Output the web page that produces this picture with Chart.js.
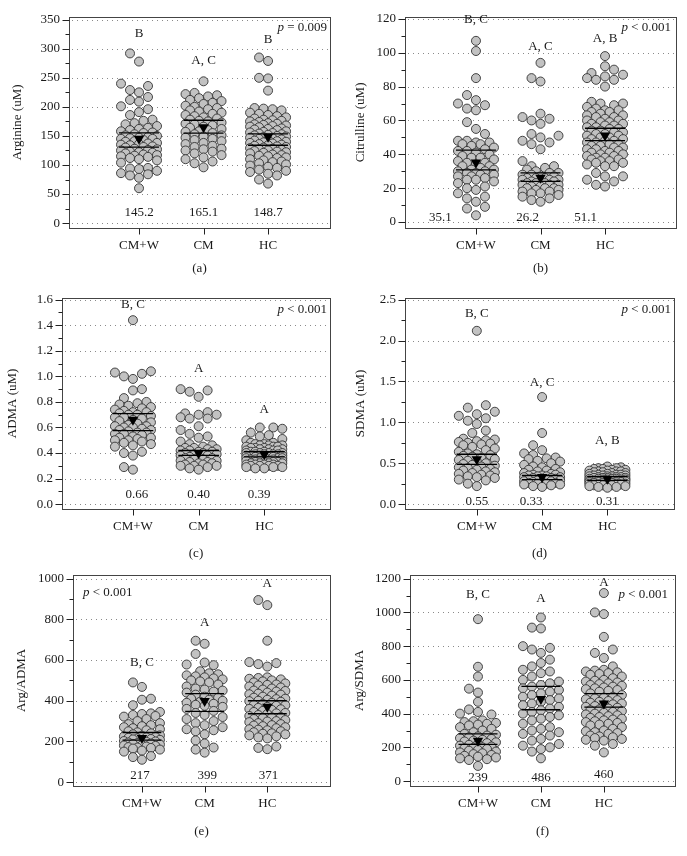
<!DOCTYPE html>
<html>
<head>
<meta charset="utf-8">
<script src="https://cdn.jsdelivr.net/npm/chart.js@4.4.3/dist/chart.umd.min.js"></script>
<style>
  html, body { margin: 0; background: #fff; }
  #wrap { position: relative; width: 687px; height: 856px; overflow: hidden; }
  #wrap canvas { position: absolute; display: block; }
</style>
</head>
<body>
<div id="wrap">
  <canvas id="c-a" width="343" height="285" style="left:0;top:0"></canvas>
  <canvas id="c-b" width="344" height="285" style="left:343px;top:0"></canvas>
  <canvas id="c-c" width="343" height="285" style="left:0;top:281px"></canvas>
  <canvas id="c-d" width="344" height="285" style="left:343px;top:281px"></canvas>
  <canvas id="c-e" width="343" height="285" style="left:0;top:558px"></canvas>
  <canvas id="c-f" width="344" height="285" style="left:343px;top:558px"></canvas>
</div>
<script>
const groups = ["CM+W", "CM", "HC"];

// (a) arginine
const argCMW = [292, 278, 240, 236, 229, 225, 217, 212, 209, 201, 196, 191, 186, 178, 176, 172, 170, 167, 164, 162, 160, 158, 156, 155, 153, 151, 150, 148, 147, 146, 145, 145, 143, 141, 140, 138, 137, 136, 135, 134, 132, 131, 130, 128, 127, 126, 125, 123, 122, 121, 120, 118, 117, 116, 115, 114, 112, 110, 108, 104, 95, 94, 93, 90, 86, 84, 82, 78, 60];
const argCM = [244, 224, 222, 220, 218, 215, 212, 210, 207, 205, 202, 200, 198, 196, 194, 192, 190, 188, 186, 184, 182, 180, 178, 176, 175, 173, 171, 170, 168, 166, 164, 162, 160, 158, 157, 155, 153, 151, 149, 147, 145, 143, 141, 138, 136, 133, 131, 128, 127, 125, 123, 120, 117, 113, 110, 106, 103, 96];
const argHC = [285, 279, 250, 249, 228, 198, 197, 196, 194, 190, 188, 186, 184, 182, 180, 178, 177, 176, 175, 174, 172, 171, 170, 169, 168, 167, 166, 165, 163, 162, 161, 160, 158, 157, 156, 155, 154, 153, 152, 151, 150, 149, 148, 147, 146, 145, 144, 143, 142, 141, 140, 139, 138, 137, 136, 135, 134, 133, 132, 131, 130, 129, 128, 127, 126, 125, 124, 123, 122, 121, 120, 118, 117, 116, 115, 113, 112, 110, 108, 106, 105, 103, 101, 99, 97, 95, 92, 90, 88, 85, 82, 75, 68];
const argMeans = [145.2, 165.1, 148.7];
const argCI = [[130.8, 155.4], [155, 177], [134, 153.7]];
const argLetters = ["B", "A, C", "B"];

// (b) citrulline
const citCMW = [107, 101, 85, 75, 72, 70, 69, 67, 66, 59, 55, 52, 48, 48, 47, 47, 46, 46, 45, 44, 43, 42, 42, 41, 40, 39, 38, 38, 37, 36, 35, 35, 34, 33, 33, 32, 31, 31, 30, 30, 29, 29, 28, 28, 27, 27, 26, 25, 25, 24, 23, 21, 20, 19, 17, 15, 14, 12, 9, 8, 4];
const citCM = [94, 85, 83, 64, 62, 61, 60, 58, 52, 51, 50, 48, 47, 46, 43, 36, 33, 33, 32, 31, 30, 29, 29, 28, 28, 27, 27, 26, 26, 26, 25, 25, 25, 24, 24, 24, 23, 23, 23, 22, 22, 22, 21, 21, 20, 20, 20, 19, 19, 18, 18, 17, 17, 16, 15, 14, 13, 12];
const citHC = [98, 92, 90, 88, 87, 86, 85, 84, 84, 80, 71, 70, 70, 69, 68, 67, 66, 66, 65, 65, 64, 63, 63, 62, 62, 61, 60, 60, 59, 59, 58, 58, 57, 57, 56, 56, 55, 55, 54, 54, 53, 53, 52, 52, 51, 51, 50, 50, 49, 49, 48, 48, 47, 47, 46, 46, 45, 45, 44, 44, 43, 43, 42, 42, 41, 41, 40, 40, 39, 39, 38, 38, 37, 37, 36, 36, 35, 35, 34, 33, 33, 29, 27, 27, 25, 24, 22, 21];
const citMeans = [35.1, 26.2, 51.1];
const citCI = [[30.8, 42.5], [24, 29], [48.1, 55.4]];
const citLetters = ["B, C", "A, C", "A, B"];

// (c) ADMA
const admaCMW = [1.44, 1.04, 1.03, 1.02, 1.0, 0.98, 0.9, 0.89, 0.83, 0.8, 0.79, 0.78, 0.77, 0.76, 0.75, 0.74, 0.73, 0.72, 0.72, 0.71, 0.7, 0.7, 0.69, 0.68, 0.68, 0.67, 0.66, 0.65, 0.64, 0.63, 0.62, 0.61, 0.61, 0.6, 0.6, 0.59, 0.58, 0.58, 0.57, 0.56, 0.56, 0.55, 0.55, 0.54, 0.53, 0.52, 0.52, 0.51, 0.5, 0.5, 0.49, 0.48, 0.47, 0.46, 0.45, 0.41, 0.4, 0.38, 0.29, 0.27];
const admaCM = [0.9, 0.89, 0.88, 0.84, 0.72, 0.71, 0.7, 0.7, 0.68, 0.67, 0.67, 0.61, 0.58, 0.55, 0.53, 0.52, 0.49, 0.47, 0.46, 0.45, 0.44, 0.44, 0.43, 0.43, 0.42, 0.42, 0.41, 0.41, 0.4, 0.4, 0.39, 0.39, 0.38, 0.38, 0.37, 0.37, 0.36, 0.36, 0.35, 0.35, 0.34, 0.34, 0.33, 0.33, 0.32, 0.32, 0.31, 0.31, 0.3, 0.3, 0.3, 0.29, 0.28, 0.27];
const admaHC = [0.6, 0.6, 0.59, 0.56, 0.54, 0.53, 0.51, 0.5, 0.48, 0.48, 0.47, 0.47, 0.46, 0.46, 0.46, 0.45, 0.45, 0.45, 0.44, 0.44, 0.44, 0.43, 0.43, 0.43, 0.42, 0.42, 0.42, 0.41, 0.41, 0.41, 0.4, 0.4, 0.4, 0.4, 0.39, 0.39, 0.39, 0.39, 0.38, 0.38, 0.38, 0.38, 0.37, 0.37, 0.37, 0.37, 0.36, 0.36, 0.36, 0.36, 0.35, 0.35, 0.35, 0.35, 0.34, 0.34, 0.34, 0.34, 0.33, 0.33, 0.33, 0.33, 0.32, 0.32, 0.32, 0.32, 0.31, 0.31, 0.31, 0.31, 0.3, 0.3, 0.3, 0.3, 0.29, 0.29, 0.29, 0.28, 0.28];
const admaMeans = [0.66, 0.40, 0.39];
const admaCI = [[0.575, 0.708], [0.382, 0.42], [0.37, 0.41]];
const admaLetters = ["B, C", "A", "A"];

// (d) SDMA
const sdmaCMW = [2.12, 1.21, 1.18, 1.13, 1.1, 1.08, 1.05, 1.02, 0.98, 0.9, 0.87, 0.8, 0.79, 0.78, 0.77, 0.76, 0.75, 0.74, 0.73, 0.72, 0.7, 0.68, 0.66, 0.64, 0.62, 0.61, 0.6, 0.59, 0.58, 0.56, 0.55, 0.54, 0.53, 0.52, 0.5, 0.49, 0.48, 0.47, 0.46, 0.45, 0.44, 0.43, 0.42, 0.41, 0.4, 0.39, 0.38, 0.37, 0.36, 0.35, 0.34, 0.33, 0.32, 0.3, 0.29, 0.25, 0.22];
const sdmaCM = [1.31, 0.87, 0.72, 0.66, 0.62, 0.6, 0.57, 0.56, 0.55, 0.53, 0.52, 0.5, 0.48, 0.46, 0.45, 0.43, 0.42, 0.41, 0.4, 0.39, 0.38, 0.37, 0.36, 0.36, 0.35, 0.35, 0.34, 0.34, 0.33, 0.33, 0.32, 0.32, 0.31, 0.31, 0.3, 0.3, 0.29, 0.29, 0.28, 0.28, 0.27, 0.27, 0.26, 0.26, 0.25, 0.25, 0.24, 0.24, 0.23, 0.22, 0.21];
const sdmaHC = [0.46, 0.45, 0.44, 0.44, 0.43, 0.43, 0.42, 0.42, 0.41, 0.41, 0.4, 0.4, 0.4, 0.39, 0.39, 0.38, 0.38, 0.37, 0.37, 0.36, 0.36, 0.36, 0.35, 0.35, 0.35, 0.34, 0.34, 0.34, 0.33, 0.33, 0.33, 0.32, 0.32, 0.32, 0.32, 0.31, 0.31, 0.31, 0.31, 0.3, 0.3, 0.3, 0.3, 0.29, 0.29, 0.29, 0.29, 0.28, 0.28, 0.28, 0.28, 0.27, 0.27, 0.27, 0.27, 0.26, 0.26, 0.26, 0.26, 0.25, 0.25, 0.25, 0.24, 0.24, 0.24, 0.23, 0.23, 0.23, 0.22, 0.22, 0.21, 0.21, 0.2];
const sdmaMeans = [0.55, 0.33, 0.31];
const sdmaCI = [[0.485, 0.61], [0.30, 0.35], [0.29, 0.337]];
const sdmaLetters = ["B, C", "A, C", "A, B"];

// (e) Arg/ADMA
const aaCMW = [490, 468, 410, 405, 378, 345, 338, 335, 330, 325, 322, 310, 300, 290, 285, 280, 275, 270, 265, 260, 255, 250, 245, 240, 235, 230, 228, 225, 222, 220, 218, 215, 212, 210, 208, 205, 202, 200, 198, 195, 192, 190, 188, 185, 182, 180, 178, 175, 172, 170, 168, 165, 160, 155, 150, 128, 123, 110];
const aaCM = [695, 680, 630, 588, 578, 575, 545, 535, 530, 525, 520, 515, 510, 505, 500, 495, 490, 480, 470, 460, 455, 450, 445, 440, 430, 420, 415, 410, 405, 400, 395, 390, 385, 380, 375, 370, 360, 350, 340, 330, 320, 310, 300, 290, 280, 270, 260, 255, 250, 235, 205, 190, 170, 160, 145];
const aaHC = [895, 870, 695, 590, 585, 580, 568, 515, 512, 508, 505, 500, 495, 490, 485, 480, 478, 475, 470, 465, 460, 455, 450, 448, 445, 440, 435, 432, 430, 425, 420, 415, 410, 408, 405, 400, 398, 395, 390, 385, 380, 378, 375, 370, 365, 360, 358, 355, 350, 345, 340, 338, 335, 330, 325, 320, 318, 315, 310, 305, 300, 298, 295, 290, 285, 280, 278, 275, 270, 265, 260, 258, 255, 250, 245, 240, 238, 235, 230, 225, 220, 215, 175, 168, 162];
const aaMeans = [217, 399, 371];
const aaCI = [[206, 244], [348, 435], [336, 400]];
const aaLetters = ["B, C", "A", "A"];

// (f) Arg/SDMA
const asCMW = [960, 678, 620, 548, 525, 470, 425, 410, 400, 395, 360, 355, 350, 345, 340, 335, 330, 320, 310, 300, 290, 280, 275, 270, 265, 260, 255, 250, 245, 240, 235, 230, 225, 220, 215, 210, 205, 200, 198, 195, 190, 185, 180, 175, 170, 165, 160, 155, 150, 145, 140, 135, 130, 125, 90];
const asCM = [970, 910, 905, 800, 790, 780, 760, 720, 700, 680, 660, 650, 640, 620, 600, 590, 580, 570, 560, 550, 540, 530, 520, 510, 500, 490, 480, 470, 460, 450, 440, 430, 420, 410, 400, 390, 380, 370, 360, 340, 320, 310, 300, 290, 280, 270, 250, 240, 220, 210, 200, 190, 175, 135];
const asHC = [1115, 1000, 990, 855, 780, 760, 730, 680, 660, 655, 650, 645, 640, 635, 630, 620, 610, 600, 595, 590, 585, 580, 575, 570, 565, 560, 555, 550, 545, 540, 535, 530, 520, 510, 500, 495, 490, 485, 480, 475, 470, 465, 460, 455, 450, 445, 440, 435, 430, 425, 420, 415, 410, 405, 400, 395, 390, 385, 380, 375, 370, 365, 360, 355, 350, 345, 340, 335, 330, 320, 310, 300, 295, 290, 285, 280, 270, 265, 260, 255, 250, 245, 240, 220, 210, 170];
const asMeans = [239, 486, 460];
const asCI = [[218, 280], [423, 561], [438, 519]];
const asLetters = ["B, C", "A", "A"];

const FONT = '"Liberation Serif", "DejaVu Serif", serif';
const INK = "#1a1a1a";
const DOT = "#c2c2c2";
const DOT_EDGE = "#333";
const DIAM = 9;
const SLOTS = [0, -9, 9, -18, 18];
const SLOTS_SQUEEZE = [-4.5, 4.5, -13.5, 13.5];

const PANELS = [
  { id: "c-a", title: "Arginine (uM)", sub: "(a)", sets: [argCMW, argCM, argHC], means: argMeans, meanDec: 1, ci: argCI, letters: argLetters,
    yMin: -8.4, yMax: 355, yTop: 350, step: 50, dec: 0, xMin: -0.085, xMax: 3.96, axisW: 69, padR: 13, padB: 7, titlePad: 10,
    letterY: [326, 279, 315], meanY: [18, 18, 18], meanDx: [0, 0, 0], p: "= 0.009", pSide: "right", pDx: -3, pDy: 11 },
  { id: "c-b", title: "Citrulline (uM)", sub: "(b)", sets: [citCMW, citCM, citHC], means: citMeans, meanDec: 1, ci: citCI, letters: citLetters,
    yMin: -3.5, yMax: 121.2, yTop: 120, step: 20, dec: 0, xMin: -0.1, xMax: 4.1, axisW: 62, padR: 11, padB: 7, titlePad: 10,
    letterY: [119.5, 103.9, 108.3], meanY: [2.7, 2.7, 2.7], meanDx: [-0.55, -0.2, -0.3], p: "< 0.001", pSide: "right", pDx: -5, pDy: 11 },
  { id: "c-c", title: "ADMA (uM)", sub: "(c)", sets: [admaCMW, admaCM, admaHC], means: admaMeans, meanDec: 2, ci: admaCI, letters: admaLetters,
    yMin: -0.038, yMax: 1.615, yTop: 1.6, step: 0.2, dec: 1, xMin: -0.08, xMax: 4.0, axisW: 62, padR: 13, padB: 3, titlePad: 5,
    letterY: [1.56, 1.06, 0.74], meanY: [0.075, 0.075, 0.075], meanDx: [0.06, 0, -0.08], p: "< 0.001", pSide: "right", pDx: -3, pDy: 12 },
  { id: "c-d", title: "SDMA (uM)", sub: "(d)", sets: [sdmaCMW, sdmaCM, sdmaHC], means: sdmaMeans, meanDec: 2, ci: sdmaCI, letters: sdmaLetters,
    yMin: -0.06, yMax: 2.524, yTop: 2.5, step: 0.5, dec: 1, xMin: -0.1, xMax: 4.02, axisW: 62, padR: 13, padB: 3, titlePad: 10,
    letterY: [2.33, 1.49, 0.78], meanY: [0.036, 0.036, 0.036], meanDx: [0, -0.17, 0], p: "< 0.001", pSide: "right", pDx: -3, pDy: 12 },
  { id: "c-e", title: "Arg/ADMA", sub: "(e)", sets: [aaCMW, aaCM, aaHC], means: aaMeans, meanDec: 0, ci: aaCI, letters: aaLetters,
    yMin: -19, yMax: 1019, yTop: 1000, step: 200, dec: 0, xMin: -0.1, xMax: 4.0, axisW: 73, padR: 13, padB: 2, titlePad: 14,
    letterY: [587, 786, 975], meanY: [30, 30, 30], meanDx: [-0.03, 0.04, 0.02], p: "< 0.001", pSide: "left", pDx: 10, pDy: 18 },
  { id: "c-f", title: "Arg/SDMA", sub: "(f)", sets: [asCMW, asCM, asHC], means: asMeans, meanDec: 0, ci: asCI, letters: asLetters,
    yMin: -29, yMax: 1223, yTop: 1200, step: 200, dec: 0, xMin: -0.08, xMax: 4.13, axisW: 67, padR: 12, padB: 2, titlePad: 9,
    letterY: [1107, 1084, 1176], meanY: [21, 21, 36], meanDx: [0, 0, 0], p: "< 0.001", pSide: "right", pDx: -7, pDy: 20 },
];

function majorTicks(p) {
  const out = [];
  const n = Math.round(p.yTop / p.step);
  for (let i = 0; i <= n; i++) out.push(+(i * p.step).toFixed(4));
  return out;
}

// gridlines under the dots, frame + tick marks + text on top
function framePlugin(p) {
  return {
    id: "frame",
    beforeDatasetsDraw(chart) {
      const { ctx, chartArea: a, scales: { y } } = chart;
      ctx.save();
      ctx.strokeStyle = "#8a8a8a";
      ctx.lineWidth = 1;
      ctx.setLineDash([1, 4]);
      for (const v of majorTicks(p)) {
        const py = Math.round(y.getPixelForValue(v)) + 0.5;
        ctx.beginPath(); ctx.moveTo(a.left + 3, py); ctx.lineTo(a.right, py); ctx.stroke();
      }
      ctx.restore();
    },
    afterDatasetsDraw(chart) {
      const { ctx, chartArea: a, scales: { x, y } } = chart;
      ctx.save();
      ctx.strokeStyle = "#444";
      ctx.lineWidth = 1;
      ctx.strokeRect(Math.round(a.left) + 0.5, Math.round(a.top) + 0.5, Math.round(a.right - a.left), Math.round(a.bottom - a.top));
      ctx.strokeStyle = "#222";
      const L = Math.round(a.left) + 0.5;
      for (const v of majorTicks(p)) {
        const py = Math.round(y.getPixelForValue(v)) + 0.5;
        ctx.beginPath(); ctx.moveTo(L - 7, py); ctx.lineTo(L, py); ctx.stroke();
        const vm = v + p.step / 2;
        if (vm < p.yTop) {
          const pm = Math.round(y.getPixelForValue(vm)) + 0.5;
          ctx.beginPath(); ctx.moveTo(L - 4, pm); ctx.lineTo(L, pm); ctx.stroke();
        }
      }
      const B = Math.round(a.bottom) + 0.5;
      for (let i = 1; i <= 3; i++) {
        const px = Math.round(x.getPixelForValue(i)) + 0.5;
        ctx.beginPath(); ctx.moveTo(px, B); ctx.lineTo(px, B + 6); ctx.stroke();
      }
      ctx.restore();
    },
    afterDraw(chart) {
      const { ctx, chartArea: a, scales: { x, y } } = chart;
      ctx.save();
      ctx.fillStyle = INK;
      ctx.font = `13px ${FONT}`;
      ctx.textAlign = "center";
      ctx.textBaseline = "middle";
      for (let i = 0; i < 3; i++) {
        ctx.fillText(p.letters[i], x.getPixelForValue(i + 1), y.getPixelForValue(p.letterY[i]));
        ctx.fillText(p.means[i].toFixed(p.meanDec), x.getPixelForValue(i + 1 + p.meanDx[i]), y.getPixelForValue(p.meanY[i]));
      }
      // p-value, italic p
      ctx.textAlign = "left";
      const italic = `italic 13px ${FONT}`, plain = `13px ${FONT}`;
      ctx.font = italic; const wp = ctx.measureText("p").width;
      ctx.font = plain; const wr = ctx.measureText(" " + p.p).width;
      const x0 = p.pSide === "left" ? a.left + p.pDx : a.right + p.pDx - wp - wr;
      const py = a.top + p.pDy;
      ctx.font = italic; ctx.fillText("p", x0, py);
      ctx.font = plain; ctx.fillText(" " + p.p, x0 + wp, py);
      ctx.restore();
    },
  };
}

// simple beeswarm in pixel space, rows spread over at most 5 columns
function swarm(chart) {
  const { x, y } = chart.scales;
  const unit = x.getPixelForValue(1) - x.getPixelForValue(0);
  chart.data.datasets.forEach((ds) => {
    if (!ds.swarm) return;
    const placed = [];
    const pts = ds.data.slice().sort((a, b) => a.y - b.y);
    for (const pt of pts) {
      const py = y.getPixelForValue(pt.y);
      let best = 0, bestD = -1, ok = false;
      const near = placed.filter((q) => Math.abs(q.py - py) < DIAM);
      const dist = (s) => near.reduce((m, q) => Math.min(m, Math.hypot(q.dx - s, q.py - py)), Infinity);
      for (const s of SLOTS) {
        const d = dist(s);
        if (d >= DIAM) { best = s; ok = true; break; }
        if (d > bestD) { bestD = d; best = s; }
      }
      if (!ok) {
        for (const s of SLOTS_SQUEEZE) {
          const d = dist(s);
          if (d > bestD) { bestD = d; best = s; }
        }
      }
      placed.push({ dx: best, py });
      pt.x = pt.g + best / unit;
    }
  });
  chart.update("none");
}

function build(p) {
  const dots = p.sets.map((vals, gi) => ({
    type: "scatter",
    swarm: true,
    data: vals.map((v) => ({ x: gi + 1, y: v, g: gi + 1 })),
    backgroundColor: DOT,
    borderColor: DOT_EDGE,
    borderWidth: 0.9,
    pointRadius: 4.5,
    order: 3,
  }));
  const ciData = [];
  p.ci.forEach(([lo, hi], i) => {
    for (const v of [lo, hi]) {
      ciData.push({ x: i + 1 - 0.31, y: v }, { x: i + 1 + 0.31, y: v }, { x: i + 1, y: null });
    }
  });
  const ci = { type: "line", data: ciData, borderColor: "#000", borderWidth: 1.3, pointRadius: 0, spanGaps: false, order: 2 };
  const mean = {
    type: "scatter",
    data: p.means.map((m, i) => ({ x: i + 1, y: m })),
    pointStyle: "triangle", rotation: 180, pointRadius: 6,
    backgroundColor: "#000", borderColor: "#000", borderWidth: 0, order: 1,
  };

  const chart = new Chart(document.getElementById(p.id), {
    type: "scatter",
    data: { datasets: [...dots, ci, mean] },
    options: {
      responsive: false,
      animation: false,
      events: [],
      layout: { padding: { top: 12, bottom: p.padB, left: 0, right: p.padR } },
      plugins: { legend: { display: false }, tooltip: { enabled: false } },
      scales: {
        x: {
          type: "linear", min: p.xMin, max: p.xMax,
          afterBuildTicks: (s) => { s.ticks = [1, 2, 3].map((value) => ({ value })); },
          afterFit: (s) => { s.height = 285 - 228 - p.padB; },
          grid: { display: false, drawTicks: false },
          border: { display: false },
          ticks: { autoSkip: false, maxRotation: 0, padding: 10, color: INK, font: { family: FONT, size: 13 },
            callback: (v) => groups[Math.round(v) - 1] },
          title: { display: true, text: p.sub, color: INK, font: { family: FONT, size: 13 }, padding: { top: 0, bottom: 2 } },
        },
        y: {
          type: "linear", min: p.yMin, max: p.yMax,
          afterBuildTicks: (s) => { s.ticks = majorTicks(p).map((value) => ({ value })); },
          afterFit: (s) => { s.width = p.axisW; },
          grid: { display: false, drawTicks: false },
          border: { display: false },
          ticks: { autoSkip: false, padding: 9, color: INK, font: { family: FONT, size: 13 },
            callback: (v) => v.toFixed(p.dec) },
          title: { display: true, text: p.title, color: INK, font: { family: FONT, size: 13 }, padding: { top: p.titlePad, bottom: 0 } },
        },
      },
    },
    plugins: [framePlugin(p)],
  });
  swarm(chart);
}

PANELS.forEach(build);
</script>
</body>
</html>
